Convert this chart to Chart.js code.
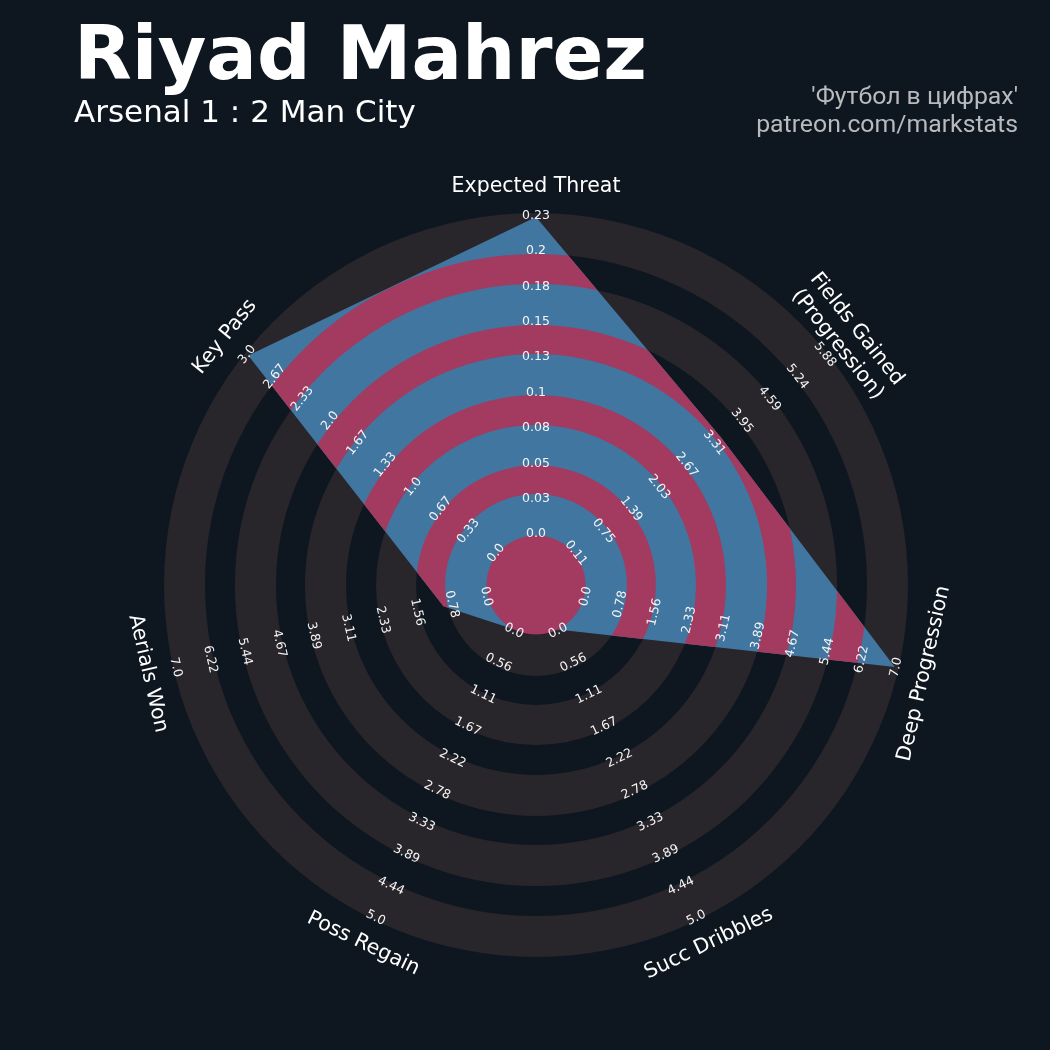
<!DOCTYPE html>
<html>
<head>
<meta charset="utf-8">
<script src="https://cdn.jsdelivr.net/npm/chart.js@4.4.1/dist/chart.umd.min.js"></script>
<style>
  body { margin: 0; background: #0e1720; }
  #wrap { position: relative; width: 1050px; height: 1050px; overflow: hidden; }
  #radar { position: absolute; left: 0; top: 0; }
  .txt { position: absolute; white-space: nowrap; line-height: 1; }
  #title { left: 74px; top: 9px; font: bold 75px "DejaVu Sans"; color: #ffffff; }
  #subtitle { left: 74px; top: 93px; font: 31px "DejaVu Sans"; color: #ffffff; }
  #credit1, #credit2 { right: 32px; font: 24.8px Roboto; color: #b8babd; text-align: right; }
  #credit1 { top: 81px; }
  #credit2 { top: 109px; }
</style>
</head>
<body>
<div id="wrap">
  <canvas id="radar" width="1050" height="1050"></canvas>
  <div class="txt" id="title">Riyad Mahrez</div>
  <div class="txt" id="subtitle">Arsenal 1 : 2 Man City</div>
  <div class="txt" id="credit1">'Футбол в цифрах'</div>
  <div class="txt" id="credit2">patreon.com/markstats</div>
</div>
<script>
// radar data
const params = ['Expected Threat', 'Fields Gained\n(Progression)', 'Deep Progression',
                'Succ Dribbles', 'Poss Regain', 'Aerials Won', 'Key Pass'];
const lowValues = [0, 0.11, 0, 0, 0, 0, 0];
const highValues = [0.23, 5.88, 7, 5, 5, 7, 3];
const playerValues = [0.23, 3.5, 7, 0, 0, 1, 3];

// range labels printed along each spoke (centre -> edge)
const rangeLabels = [
  ['0.0', '0.03', '0.05', '0.08', '0.1', '0.13', '0.15', '0.18', '0.2', '0.23'],
  ['0.11', '0.75', '1.39', '2.03', '2.67', '3.31', '3.95', '4.59', '5.24', '5.88'],
  ['0.0', '0.78', '1.56', '2.33', '3.11', '3.89', '4.67', '5.44', '6.22', '7.0'],
  ['0.0', '0.56', '1.11', '1.67', '2.22', '2.78', '3.33', '3.89', '4.44', '5.0'],
  ['0.0', '0.56', '1.11', '1.67', '2.22', '2.78', '3.33', '3.89', '4.44', '5.0'],
  ['0.0', '0.78', '1.56', '2.33', '3.11', '3.89', '4.67', '5.44', '6.22', '7.0'],
  ['0.0', '0.33', '0.67', '1.0', '1.33', '1.67', '2.0', '2.33', '2.67', '3.0']
];

const BLUE = '#4176a0';
const CRIMSON = '#a33a60';
const GREY = '#28252b';
// ring boundaries in scale units (0 = centre circle edge, 1 = max value)
const RING_EDGES = [0, 0.130, 0.221, 0.347, 0.441, 0.570, 0.661, 0.790, 0.884, 1.0126];

function annulus(ctx, s, v0, v1) {
  const r0 = s.getDistanceFromCenterForValue(v0);
  const r1 = s.getDistanceFromCenterForValue(v1);
  ctx.beginPath();
  ctx.arc(s.xCenter, s.yCenter, r1, 0, Math.PI * 2);
  ctx.arc(s.xCenter, s.yCenter, r0, 0, Math.PI * 2, true);
  ctx.fill();
}

function textRotation(angle) {
  // keep text readable in the bottom half
  return (angle > Math.PI / 2 && angle < Math.PI * 1.5) ? angle - Math.PI : angle;
}

const radarRings = {
  id: 'radarRings',
  beforeDatasetsDraw(chart) {
    const s = chart.scales.r;
    const ctx = chart.ctx;
    ctx.save();
    ctx.fillStyle = GREY;
    for (let k = 0; k < RING_EDGES.length - 1; k += 2) annulus(ctx, s, RING_EDGES[k], RING_EDGES[k + 1]);
    ctx.restore();
  },
  afterDatasetsDraw(chart) {
    const s = chart.scales.r;
    const ctx = chart.ctx;
    const pts = chart.getDatasetMeta(0).data;

    // rings inside the radar shape
    ctx.save();
    ctx.beginPath();
    pts.forEach((p, i) => i ? ctx.lineTo(p.x, p.y) : ctx.moveTo(p.x, p.y));
    ctx.closePath();
    ctx.clip();
    ctx.fillStyle = CRIMSON;
    for (let k = 1; k < RING_EDGES.length - 1; k += 2) annulus(ctx, s, RING_EDGES[k], RING_EDGES[k + 1]);
    ctx.restore();

    // centre circle
    ctx.save();
    ctx.fillStyle = CRIMSON;
    ctx.beginPath();
    ctx.arc(s.xCenter, s.yCenter, s.getDistanceFromCenterForValue(0), 0, Math.PI * 2);
    ctx.fill();
    ctx.restore();

    // range labels
    ctx.save();
    ctx.fillStyle = '#f4f4f4';
    ctx.textAlign = 'center';
    ctx.textBaseline = 'alphabetic';
    const fs = 12.5;
    ctx.font = fs + 'px "DejaVu Sans"';
    rangeLabels.forEach((labels, i) => {
      const rot = textRotation(s.getIndexAngle(i));
      labels.forEach((lab, j) => {
        const d = s.getDistanceFromCenterForValue(j / (labels.length - 1)) + 1.5;
        const p = s.getPointPosition(i, d);
        ctx.save();
        ctx.translate(p.x, p.y);
        ctx.rotate(rot);
        ctx.fillText(lab, 0, 0.262 * fs);
        ctx.restore();
      });
    });
    ctx.restore();

    // parameter names
    ctx.save();
    ctx.fillStyle = '#ffffff';
    ctx.textAlign = 'center';
    const pfs = 20.5;
    ctx.font = pfs + 'px "DejaVu Sans"';
    params.forEach((name, i) => {
      const rot = textRotation(s.getIndexAngle(i));
      const p = s.getPointPosition(i, s.drawingArea + 26);
      const lines = name.split('\n');
      const lh = pfs * 1.2;
      ctx.save();
      ctx.translate(p.x, p.y);
      ctx.rotate(rot);
      lines.forEach((ln, k) => {
        const off = (k - (lines.length - 1) / 2) * lh;
        ctx.fillText(ln, 0, off + 0.262 * pfs);
      });
      ctx.restore();
    });
    ctx.restore();
  }
};

new Chart(document.getElementById('radar'), {
  type: 'radar',
  data: {
    labels: params,
    datasets: [{
      data: playerValues.map((v, i) => (v - lowValues[i]) / (highValues[i] - lowValues[i])),
      backgroundColor: BLUE,
      borderWidth: 0,
      pointRadius: 0,
      fill: 'start'
    }]
  },
  options: {
    responsive: false,
    animation: false,
    devicePixelRatio: 1,
    layout: { padding: { left: 164, right: 142, top: 213, bottom: 93 } },
    plugins: { legend: { display: false }, tooltip: { enabled: false } },
    scales: {
      r: {
        min: -0.1554,
        max: 1.0126,
        grid: { display: false },
        angleLines: { display: false },
        ticks: { display: false },
        pointLabels: { display: false }
      }
    }
  },
  plugins: [radarRings]
});
</script>
</body>
</html>
